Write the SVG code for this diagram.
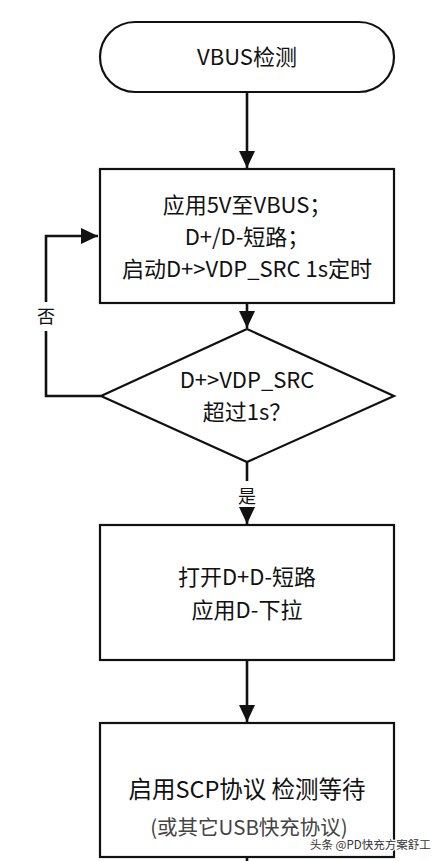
<svg xmlns="http://www.w3.org/2000/svg" width="440" height="861" viewBox="0 0 440 861">
<style>
.shape{fill:#fff;stroke:#111;stroke-width:2.2}
.line{fill:none;stroke:#111;stroke-width:2.6}
.t{font-family:"Noto Sans CJK SC","Noto Sans",sans-serif;font-size:22px;fill:#111;text-anchor:middle}
.lbl{font-family:"Noto Sans CJK SC","Noto Sans",sans-serif;font-size:18px;fill:#111;text-anchor:middle}
.sub{fill:#444;font-size:20.5px}
.wm{font-family:"Noto Sans CJK SC","Noto Sans",sans-serif;font-size:11.5px;fill:#333;stroke:#fff;stroke-width:2.5;paint-order:stroke}
</style>
<defs>
<marker id="ah" markerUnits="userSpaceOnUse" markerWidth="18" markerHeight="18" refX="17" refY="8" orient="auto">
<path d="M0,0 L17,8 L0,16 z" fill="#111"/>
</marker>
</defs>
<rect width="440" height="861" fill="#fff"/>
<g id="connectors">
<path class="line" d="M247,92 V168" marker-end="url(#ah)"/>
<path class="line" d="M247,303 V328" marker-end="url(#ah)"/>
<path class="line" d="M101,396 H46 V236 H98" marker-end="url(#ah)"/>
<rect x="35" y="302" width="24" height="29" fill="#fff"/>
<text class="lbl" x="46" y="323">否</text>
<path class="line" d="M247,462 V524" marker-end="url(#ah)"/>
<rect x="235" y="481" width="24" height="26" fill="#fff"/>
<text class="lbl" x="247" y="503">是</text>
<path class="line" d="M247,660 V722" marker-end="url(#ah)"/>
<path class="line" d="M247,857 V861"/>
</g>
<g id="start">
<rect class="shape" x="100" y="22" width="294" height="70" rx="35" ry="35"/>
<text class="t" x="247" y="65">VBUS检测</text>
</g>
<g id="init">
<rect class="shape" x="100" y="169" width="294" height="134"/>
<text class="t" x="247" y="213">应用5V至VBUS；</text>
<text class="t" x="247" y="245">D+/D-短路；</text>
<text class="t" x="247" y="277">启动D+&gt;VDP_SRC 1s定时</text>
</g>
<g id="check">
<polygon class="shape" points="247,329 394,396 247,462 101,396"/>
<text class="t" x="247" y="388">D+&gt;VDP_SRC</text>
<text class="t" x="247" y="420">超过1s？</text>
</g>
<g id="open">
<rect class="shape" x="100" y="525" width="294" height="135"/>
<text class="t" x="247" y="585">打开D+D-短路</text>
<text class="t" x="247" y="618">应用D-下拉</text>
</g>
<g id="scp">
<rect class="shape" x="100" y="723" width="294" height="134"/>
<text class="t" x="247" y="798" style="font-size:23.5px">启用SCP协议 检测等待</text>
<text class="t sub" x="249" y="835">(或其它USB快充协议)</text>
</g>
<text class="wm" x="310" y="849">头条 @PD快充方案舒工</text>
</svg>
